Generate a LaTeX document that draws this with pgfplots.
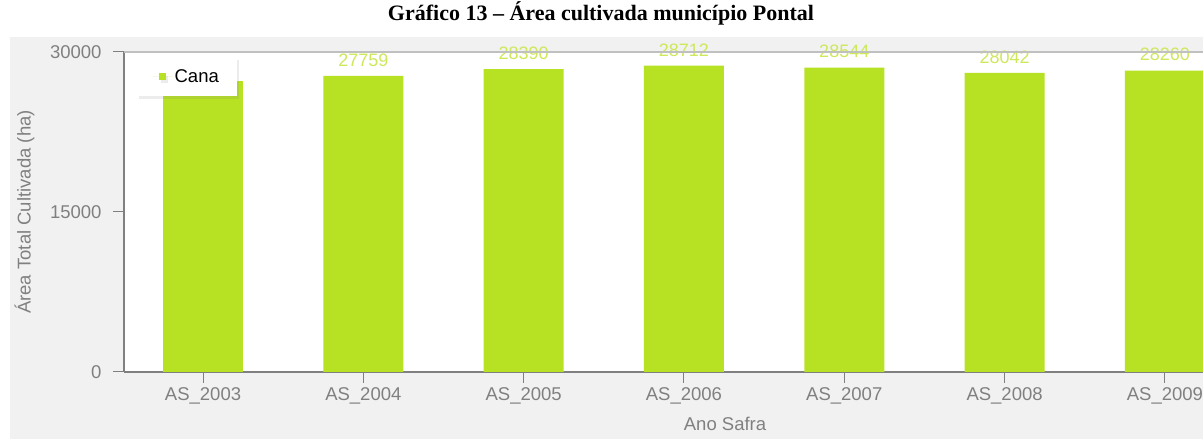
\documentclass[border=0pt]{standalone}
\usepackage{pgfplots}
\pgfplotsset{compat=1.18}
\usetikzlibrary{shadows}
\usepackage{fontspec}
\setmainfont{Liberation Sans}
\newfontfamily\titlefont{Liberation Serif}
\definecolor{bargreen}{RGB}{183,226,36}
\definecolor{lblgreen}{RGB}{205,232,90}
\definecolor{tickgray}{RGB}{128,128,128}
\definecolor{bggray}{RGB}{241,241,241}
\begin{document}
\begin{tikzpicture}
\path[use as bounding box] (0,0) rectangle (1203pt,439pt);
\fill[bggray] (10pt,0) rectangle (1203pt,402pt);
\node[font=\titlefont\bfseries\fontsize{22}{25}\selectfont] at (601pt,426pt) {Gráfico 13 – Área cultivada município Pontal};
\begin{axis}[
  at={(124pt,67pt)}, anchor=south west,
  scale only axis, width=1079pt, height=320pt,
  ybar, bar width=80pt, bar shift=0pt,
  xmin=-0.493, xmax=6.238,
  ymin=0, ymax=30000,
  xtick={0,...,6},
  xticklabels={AS\_2003,AS\_2004,AS\_2005,AS\_2006,AS\_2007,AS\_2008,AS\_2009},
  ytick={0,15000,30000},
  /pgf/number format/assume math mode=true,
  yticklabel style={/pgf/number format/fixed,/pgf/number format/1000 sep={}},
  scaled y ticks=false,
  axis x line*=bottom, axis y line*=left,
  axis line style={tickgray, line width=1.2pt, -},
  tick align=outside, major tick length=11pt,
  tick style={tickgray, line width=1pt},
  ticklabel style={font=\fontsize{18.5}{21}\selectfont, text=tickgray},
  xticklabel style={yshift=-1pt},
  yticklabel style={xshift=-8pt},
  axis background/.style={fill=white},
  xlabel={Ano Safra}, ylabel={Área Total Cultivada (ha)},
  label style={font=\fontsize{18.5}{21}\selectfont, text=tickgray},
  xlabel style={at={(axis description cs:0.557,0)}, anchor=north, yshift=-42pt},
  ylabel style={at={(axis description cs:0,0.5)}, yshift=86pt},
  every node near coord/.append style={font=\fontsize{18}{21}\selectfont, text=lblgreen, yshift=6pt, /pgf/number format/fixed,/pgf/number format/1000 sep={}},
  legend style={at={(axis description cs:0.0115,0.985)}, anchor=north west, draw=none, fill=white, font=\fontsize{18.5}{21}\selectfont, inner xsep=16pt, inner ysep=10.5pt, drop shadow={opacity=0.15}},
  legend image code/.code={\path (0pt,0pt) -- (20pt,0pt); \fill[bargreen] (6pt,-3.5pt) rectangle (13pt,3.5pt);},
  after end axis/.code={\draw[tickgray!50, line width=1.2pt] (rel axis cs:0,1) -- (rel axis cs:1,1);},
]
\addplot[fill=bargreen, draw=none] coordinates {(0,27300)};
\addlegendentry{Cana\hspace{10pt}}
\addplot[fill=bargreen, draw=none, nodes near coords, forget plot] coordinates {(1,27759) (2,28390) (3,28712) (4,28544) (5,28042) (6,28260)};
\end{axis}
\end{tikzpicture}
\end{document}
